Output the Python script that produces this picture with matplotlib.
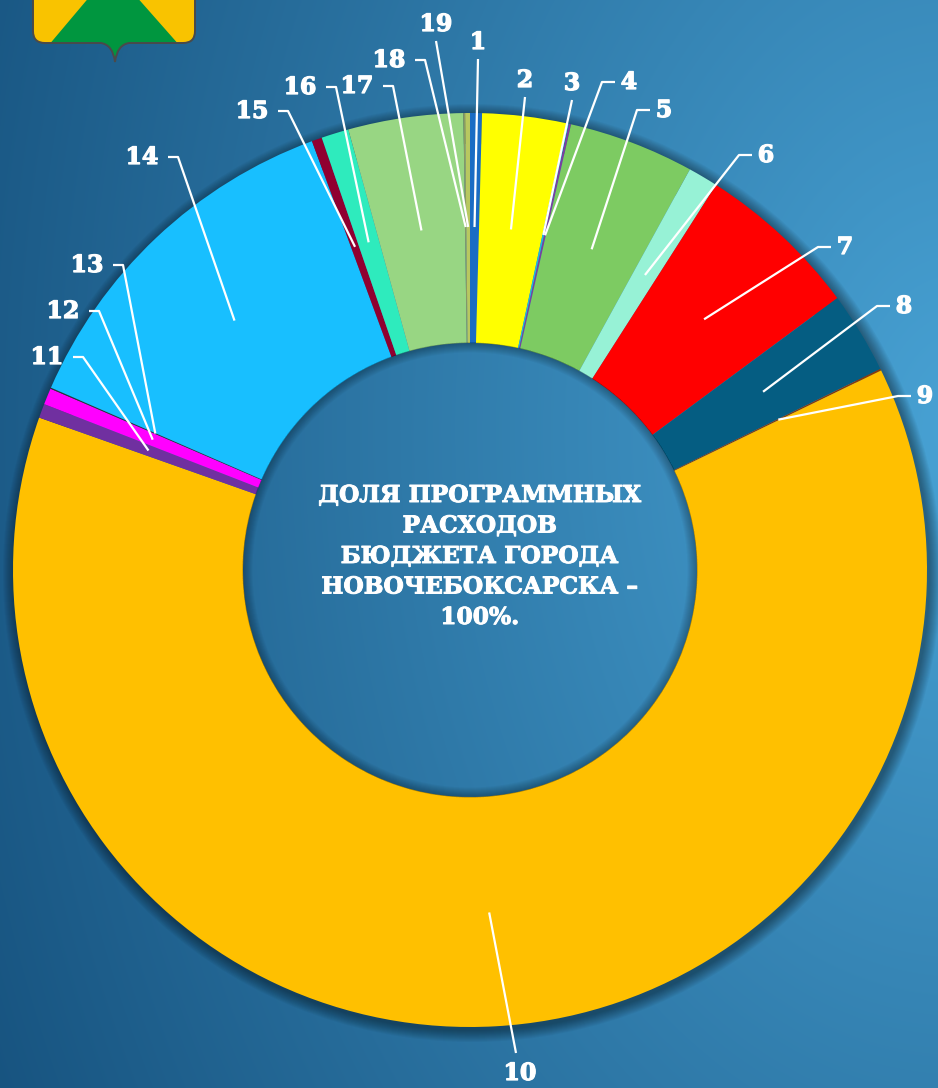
import numpy as np
import matplotlib
matplotlib.use("Agg")
import matplotlib.pyplot as plt
from matplotlib.patches import Wedge, PathPatch, Polygon
from matplotlib.path import Path
import matplotlib.patheffects as pe

# ---------------- data ----------------
labels = [str(i) for i in range(1, 20)]
shares = [0.42, 2.97, 0.08, 0.08, 4.44, 1.06, 5.81, 2.89, 0.06, 62.61,
          0.50, 0.58, 0.04, 12.85, 0.36, 0.97, 4.06, 0.06, 0.17]
colors = ["#1a6cc4", "#ffff00", "#22b8dc", "#7b3fa0", "#7dcb62", "#97f2d6",
          "#ff0000", "#055d82", "#8b3a0a", "#ffc000", "#7030a0", "#ff00ff",
          "#333333", "#18bfff", "#900030", "#2eebbd", "#98d683", "#8c9a62",
          "#b8c860"]
center_title = "ДОЛЯ ПРОГРАММНЫХ\nРАСХОДОВ\nБЮДЖЕТА ГОРОДА\nНОВОЧЕБОКСАРСКА –\n100%."

# ---------------- layout ----------------
W, H = 938, 1088
CX, CY = 470, 570
R_OUT, R_IN = 457, 227
R_ANCH = 343
# label text centres and leader style ('s' straight, 'r' right tick, 'l' left tick)
label_pos = {
    "1": (478, 42, "s"), "2": (525, 80, "s"), "3": (572, 83, "s"),
    "4": (629, 82, "r"), "5": (664, 110, "r"), "6": (766, 155, "r"),
    "7": (845, 247, "r"), "8": (904, 306, "r"), "9": (925, 396, "r"),
    "10": (520, 1073, "s"), "11": (47, 357, "l"), "12": (63, 311, "l"),
    "13": (87, 265, "l"), "14": (142, 157, "l"), "15": (252, 111, "l"),
    "16": (300, 87, "l"), "17": (357, 86, "l"), "18": (389, 60, "l"),
    "19": (436, 24, "s"),
}

fig = plt.figure(figsize=(W / 100, H / 100), dpi=100)
ax = fig.add_axes([0, 0, 1, 1])

# background gradient (elliptical radial)
yy, xx = np.mgrid[0:H, 0:W]
d = np.sqrt((xx - 960.0) ** 2 + ((yy - 430.0) * 0.7) ** 2)
t = np.clip(d / 1120.0, 0, 1)[..., None]
light = np.array([0x48, 0xa2, 0xd4]) / 255.0
dark = np.array([0x15, 0x50, 0x7c]) / 255.0
img = light * (1 - t) + dark * t
ax.imshow(img, extent=(0, W, H, 0), zorder=0, interpolation="bilinear")

# outer soft shadow (rings only)
for k in range(12):
    ax.add_patch(Wedge((CX + 2, CY + 3), R_OUT + 12 - k, 0, 360, width=40 - k,
                       facecolor="#000000", alpha=0.035, lw=0, zorder=1))

wedges, _ = ax.pie(shares, colors=colors, startangle=-90, counterclock=True,
                   radius=R_OUT, center=(CX, CY),
                   wedgeprops=dict(width=R_OUT - R_IN, linewidth=0), frame=True)
for w in wedges:
    w.set_zorder(2)

# inner shadow inside the hole
for k in range(10):
    ax.add_patch(Wedge((CX, CY), R_IN + 0.5, 0, 360, width=10 - k,
                       facecolor="#000000", alpha=0.03, lw=0, zorder=3))

ax.set_xlim(0, W)
ax.set_ylim(H, 0)
ax.set_aspect("equal")
ax.axis("off")

thick = [pe.withStroke(linewidth=0.9, foreground="white")]
fontlab = dict(color="white", fontsize=17, fontweight="bold",
               family="DejaVu Serif", ha="center", va="center", zorder=6,
               path_effects=thick)

for w, lab in zip(wedges, labels):
    th = np.deg2rad((w.theta1 + w.theta2) / 2)
    axp = CX + R_ANCH * np.cos(th)
    ayp = CY + R_ANCH * np.sin(th)
    tx, ty, mode = label_pos[lab]
    ax.text(tx, ty, lab, **fontlab)
    if mode == "s":
        if ty < CY:
            pts = [(tx, ty + 17), (axp, ayp)]
        else:
            pts = [(tx - 4, ty - 20), (axp, ayp)]
    elif mode == "r":
        pts = [(tx - 14, ty), (tx - 27, ty), (axp, ayp)]
    else:
        pts = [(tx + 26, ty), (tx + 36, ty), (axp, ayp)]
    xs, ys = zip(*pts)
    ax.plot(xs, ys, color="white", lw=1.6, zorder=5, solid_capstyle="butt")

ax.text(CX + 10, 557, center_title, color="white", fontsize=16.8,
        fontweight="bold", family="DejaVu Serif", ha="center", va="center",
        linespacing=1.5, multialignment="center", zorder=6,
        path_effects=[pe.withStroke(linewidth=0.7, foreground="white")])

# coat of arms fragment (top-left)
verts = [(33, -5), (33, 31), (33, 43), (45, 43), (101, 43), (113, 45), (115, 62),
         (117, 45), (129, 43), (183, 43), (195, 43), (195, 31), (195, -5), (33, -5)]
codes = [Path.MOVETO, Path.LINETO, Path.CURVE3, Path.CURVE3, Path.LINETO,
         Path.CURVE3, Path.CURVE3, Path.CURVE3, Path.CURVE3, Path.LINETO,
         Path.CURVE3, Path.CURVE3, Path.LINETO, Path.CLOSEPOLY]
shield = Path(verts, codes)
sp = PathPatch(shield, facecolor="#f9c300", edgecolor="none", zorder=7)
ax.add_patch(sp)
green = Polygon([(91, -5), (135, -5), (180, 46), (120, 70), (48, 46)],
                closed=True, facecolor="#00963f", edgecolor="none", zorder=8)
ax.add_patch(green)
green.set_clip_path(sp)
ax.add_patch(PathPatch(shield, facecolor="none", edgecolor="#4a4a4a", lw=1.4, zorder=9))

fig.savefig("out.png", dpi=100)
